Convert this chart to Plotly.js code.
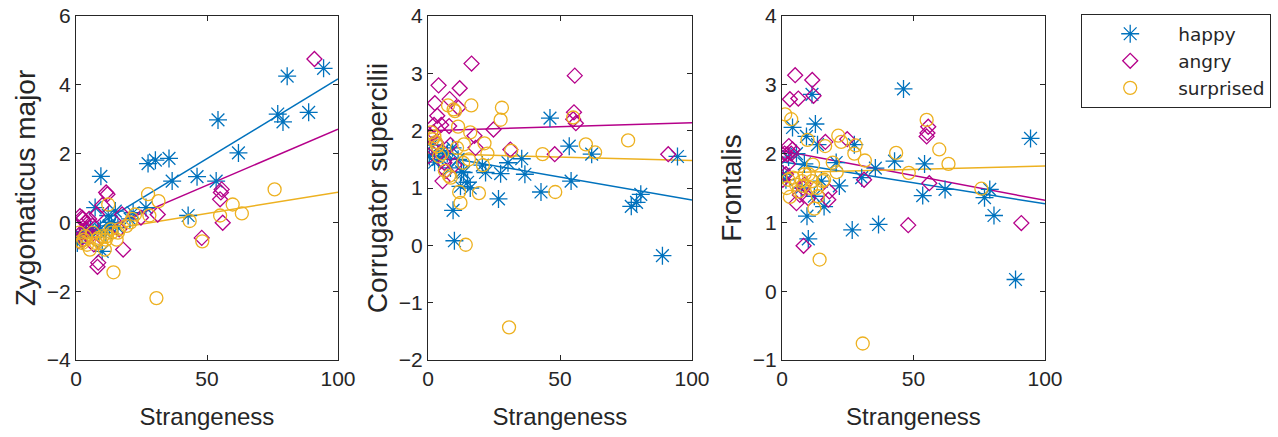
<!DOCTYPE html>
<html>
<head>
<meta charset="utf-8">
<script src="https://cdn.plot.ly/plotly-3.0.1.min.js"></script>
<style>
  html, body { margin: 0; padding: 0; background: #fff; }
  #chart { width: 1278px; height: 437px; }
</style>
</head>
<body>
<div id="chart"></div>
<script>
// ---------------- DATA ----------------
const emotions = ["happy", "angry", "surprised"];
const panelTitles = ["Zygomaticus major", "Corrugator supercilii", "Frontalis"];
const xTitle = "Strangeness";
const xTicks = [0, 50, 100];
const yTicks1 = [-4, -2, 0, 2, 4, 6];
const yTicks2 = [-2, -1, 0, 1, 2, 3, 4];
const yTicks3 = [-1, 0, 1, 2, 3, 4];

// happy
const happyX      = [0.5, 1.5, 2.5, 4.0, 5.5, 7.3, 8.5, 9.3, 9.5, 10.0, 11.4, 12.3, 12.7, 13.5, 15.0, 16.0, 20.6, 21.8, 26.7, 27.5, 30.3, 35.5, 36.7, 42.8, 46.2, 53.5, 54.2, 62.0, 77.0, 79.0, 80.6, 88.8, 94.5];
const happyZyg    = [-0.60, -0.35, -0.45, -0.30, -0.15, 0.43, -0.25, -0.20, 1.34, -0.84, -0.30, 0.20, -0.10, 0.00, 0.33, -0.15, 0.10, 0.28, 0.43, 1.71, 1.81, 1.86, 1.20, 0.20, 1.33, 1.20, 2.98, 2.02, 3.15, 2.92, 4.25, 3.20, 4.48];
const happyCorr   = [1.55, 1.75, 1.45, 1.50, 1.65, 1.60, 1.35, 1.70, 0.61, 0.08, 1.50, 1.03, 1.28, 1.27, 1.10, 1.00, 1.40, 1.27, 0.81, 1.25, 1.44, 1.51, 1.24, 0.93, 2.22, 1.73, 1.12, 1.59, 0.68, 0.75, 0.89, -0.18, 1.55];
const happyFront  = [1.70, 1.62, 1.95, 2.38, 2.00, 1.50, 1.85, 2.25, 1.09, 0.76, 2.86, 1.38, 2.43, 2.13, 1.60, 1.23, 1.87, 1.53, 0.89, 2.13, 1.65, 1.79, 0.97, 1.89, 2.94, 1.39, 1.85, 1.48, 1.36, 1.48, 1.10, 0.17, 2.22];

// angry
const angryX      = [0.3, 1.0, 1.5, 2.0, 2.3, 2.6, 3.0, 3.5, 4.0, 5.0, 5.5, 6.2, 6.8, 8.0, 8.2, 8.5, 10.0, 11.5, 12.0, 16.5, 17.6, 18.0, 24.8, 31.2, 48.0, 55.0, 55.3, 55.6, 56.0, 91.0];
const angryZyg    = [-0.10, -0.54, 0.18, -0.30, 0.14, 0.10, -0.50, 0.00, -0.20, 0.10, -0.40, -0.10, -0.64, 0.23, -1.29, -1.17, 0.50, 0.87, 0.82, -0.20, 0.23, -0.79, 0.14, 0.23, -0.45, 0.67, 0.87, 0.96, -0.01, 4.75];
const angryCorr   = [1.56, 1.90, 1.70, 1.97, 2.10, 2.48, 1.80, 2.26, 2.79, 2.10, 1.12, 1.44, 1.30, 2.08, 2.55, 1.75, 1.40, 2.40, 2.74, 3.17, 1.91, 1.70, 2.02, 1.67, 1.59, 2.20, 2.32, 2.96, 2.13, 1.59];
const angryFront  = [1.62, 2.00, 1.70, 1.99, 1.85, 2.11, 2.79, 2.00, 2.06, 3.14, 1.28, 2.80, 1.40, 1.50, 0.66, 1.55, 1.35, 3.07, 2.84, 2.17, 1.33, 1.45, 2.21, 1.62, 0.96, 2.25, 2.30, 2.39, 1.57, 0.99];

// surprised
const surpX       = [1.2, 1.8, 2.4, 3.0, 3.5, 4.2, 5.3, 6.4, 7.6, 8.0, 8.6, 9.7, 10.2, 11.0, 11.4, 11.8, 12.3, 13.3, 13.6, 14.3, 15.5, 16.0, 16.4, 19.3, 20.8, 21.4, 22.5, 27.5, 28.0, 30.7, 31.5, 43.4, 48.2, 55.0, 59.8, 63.3, 75.8];
const surpZyg     = [-0.30, -0.55, -0.60, -0.50, -0.40, -0.65, -0.79, -0.30, -0.60, -0.50, -0.45, -0.60, -0.40, -0.79, -0.50, -0.40, 0.52, -0.20, -0.30, -1.45, -0.50, -0.30, -0.20, -0.10, 0.00, 0.10, 0.23, 0.82, 0.20, -2.20, 0.62, 0.04, -0.55, 0.20, 0.52, 0.26, 0.96];
const surpCorr    = [1.97, 1.85, 1.90, 1.80, 1.73, 1.55, 1.60, 1.30, 2.44, 1.21, 1.18, 2.37, 2.34, 1.70, 2.07, 0.93, 0.74, 1.44, 1.76, 0.01, 1.50, 1.97, 2.44, 0.91, 1.40, 1.78, 1.60, 2.19, 2.40, -1.43, 1.65, 1.59, 0.93, 2.23, 1.76, 1.62, 1.83];
const surpFront   = [2.57, 1.50, 1.62, 1.37, 2.50, 1.65, 1.55, 1.45, 1.60, 1.53, 1.70, 2.20, 1.70, 1.50, 1.60, 1.84, 1.20, 1.50, 1.38, 0.46, 1.60, 1.62, 2.11, 1.87, 1.73, 2.26, 2.17, 2.00, 2.12, -0.76, 1.90, 2.01, 1.72, 2.49, 2.06, 1.85, 1.49];

// fitted lines (intercept, slope) per panel
const fitX = [0, 100];
const happyIntercept = [-0.46, 1.59, 1.88];
const happySlope     = [0.0463, -0.0080, -0.0061];
const angryIntercept = [-0.55, 2.00, 2.04];
const angrySlope     = [0.0326, 0.0014, -0.0072];
const surpIntercept  = [-0.36, 1.60, 1.72];
const surpSlope      = [0.0124, -0.0012, 0.0010];

// ---------------- STYLE ----------------
const W = 1278, H = 437;
const FONT = "Liberation Sans, Arial, Helvetica, sans-serif";
const LEGEND_FONT = "DejaVu Sans, Liberation Sans, Arial, sans-serif";
const TXT = "#262626";
const colors = ["#0072BD", "#B5008A", "#EDB120"];
const symbols = ["asterisk-open", "diamond-open", "circle-open"];
const sizes = [15, 11.5, 13];

const seriesX = [happyX, angryX, surpX];
const seriesY = [
  [happyZyg, happyCorr, happyFront],
  [angryZyg, angryCorr, angryFront],
  [surpZyg, surpCorr, surpFront]
];
const intercepts = [happyIntercept, angryIntercept, surpIntercept];
const slopes = [happySlope, angrySlope, surpSlope];

const xPix = [[76, 338], [428, 692], [782, 1045]];
const yPix = [16, 360];
const yRanges = [[-4, 6], [-2, 4], [-1, 4]];
const yTickSets = [yTicks1, yTicks2, yTicks3];

const traces = [];
for (let p = 0; p < 3; p++) {
  const xa = p === 0 ? "x" : "x" + (p + 1);
  const ya = p === 0 ? "y" : "y" + (p + 1);
  for (let e = 0; e < 3; e++) {
    traces.push({
      type: "scatter", mode: "lines",
      x: fitX, y: fitX.map(v => intercepts[e][p] + slopes[e][p] * v),
      xaxis: xa, yaxis: ya,
      showlegend: false, legendgroup: emotions[e],
      line: { color: colors[e], width: 1.5 },
      hoverinfo: "skip"
    });
  }
  for (let e = 0; e < 3; e++) {
    traces.push({
      type: "scatter", mode: "markers",
      x: seriesX[e], y: seriesY[e][p],
      xaxis: xa, yaxis: ya,
      name: emotions[e], legendgroup: emotions[e],
      showlegend: p === 0,
      marker: { symbol: symbols[e], size: sizes[e], color: colors[e], line: { width: 1.3, color: colors[e] } },
      hoverinfo: "skip"
    });
  }
}

function axisBase() {
  return {
    ticks: "inside", ticklen: 5, tickwidth: 1, tickcolor: TXT,
    showline: true, linecolor: TXT, linewidth: 1.2, mirror: "ticks",
    showgrid: false, zeroline: false, fixedrange: true,
    tickfont: { family: FONT, size: 21, color: TXT },
    tickmode: "array"
  };
}

const layout = {
  width: W, height: H,
  margin: { l: 0, r: 0, t: 0, b: 0 },
  paper_bgcolor: "#fff", plot_bgcolor: "#fff",
  font: { family: FONT, color: TXT },
  showlegend: true,
  legend: {
    x: 1081 / W, y: 1 - 14 / H, xanchor: "left", yanchor: "top",
    bordercolor: TXT, borderwidth: 1.2, bgcolor: "#fff",
    font: { family: LEGEND_FONT, size: 18.5, color: TXT },
    itemwidth: 86, tracegroupgap: 0, traceorder: "normal"
  }
};
for (let p = 0; p < 3; p++) {
  const sx = p === 0 ? "" : String(p + 1);
  const xa = Object.assign(axisBase(), {
    domain: [xPix[p][0] / W, xPix[p][1] / W],
    range: [0, 100], tickvals: xTicks,
    anchor: "y" + sx,
    title: { text: xTitle, font: { family: FONT, size: 24, color: TXT }, standoff: 18 }
  });
  const ya = Object.assign(axisBase(), {
    domain: [1 - yPix[1] / H, 1 - yPix[0] / H],
    range: yRanges[p], tickvals: yTickSets[p],
    anchor: "x" + sx,
    title: { text: panelTitles[p], font: { family: FONT, size: 28, color: TXT }, standoff: 2 }
  });
  layout["xaxis" + sx] = xa;
  layout["yaxis" + sx] = ya;
}

Plotly.newPlot("chart", traces, layout, { staticPlot: true, displayModeBar: false });
</script>
</body>
</html>
